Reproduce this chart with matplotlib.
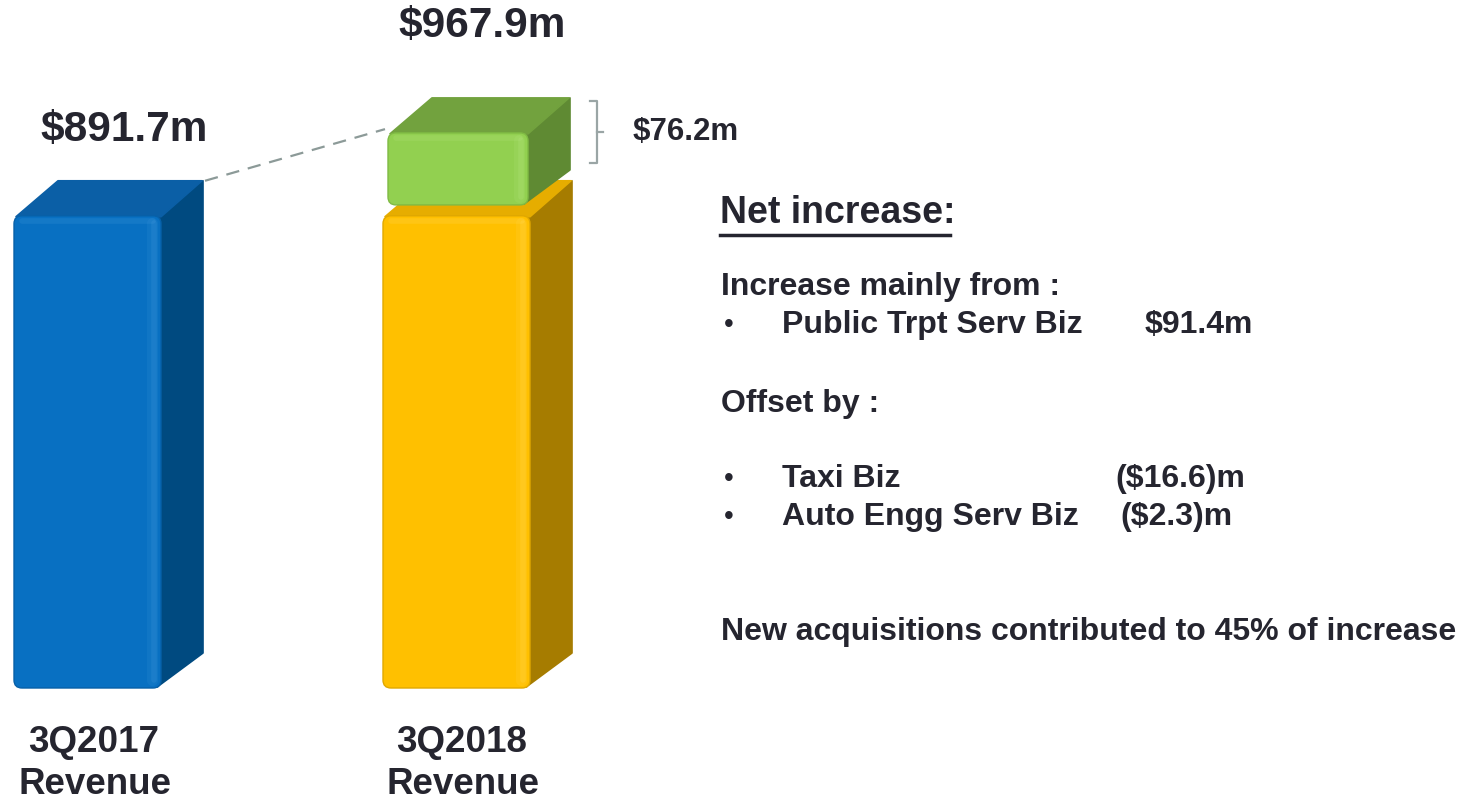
import matplotlib
matplotlib.use('Agg')
import matplotlib.pyplot as plt
from matplotlib.patches import FancyBboxPatch, Polygon

plt.rcParams['font.family'] = ['Liberation Sans', 'DejaVu Sans']
plt.rcParams['font.weight'] = 'bold'

# --- data ---
periods = ['3Q2017', '3Q2018']
revenue = [891.7, 967.9]                 # $m
growth = round(revenue[1] - revenue[0], 1)
up_items = ['Public Trpt Serv Biz']
up_values = ['$91.4m']
down_items = ['Taxi Biz', 'Auto Engg Serv Biz']
down_values = ['($16.6)m', '($2.3)m']
acq_share = 45

# --- layout (x in pixels, y in $m) ---
W, H = 1474, 800
FLOOR = 392.0           # base of the drawn bars (truncated axis)
PX = 0.945              # pixels per $m
Y_LO = FLOOR - (H - 688) / PX
Y_HI = Y_LO + H / PX
DX = 42                 # 3d depth, pixels
DY = 35 / PX            # 3d depth, $m
GAP = 11.5              # green block floats a little above the yellow one
INK = '#25252F'


def ypx(py):
    # pixel row -> y value (only used for placing text)
    return Y_LO + (H - py) / PX


def box3d(ax, x0, x1, y0, y1, front, top, side, shine, rim):
    ax.add_patch(Polygon([(x1 - 4, y0 + 1), (x1 + DX, y0 + DY), (x1 + DX, y1 + DY),
                          (x1 - 4, y1)],
                         closed=True, fc=side, ec=side, lw=1.2, joinstyle='round'))
    ax.add_patch(Polygon([(x0 + 2, y1 - 1), (x1, y1 - 1), (x1 + DX - 1, y1 + DY),
                          (x0 + DX + 2, y1 + DY)],
                         closed=True, fc=top, ec=top, lw=1.2, joinstyle='round'))
    ax.add_patch(FancyBboxPatch((x0, y0), x1 - x0, y1 - y0,
                                boxstyle='round,pad=0,rounding_size=8',
                                mutation_aspect=1 / PX, fc=front, ec=rim, lw=1.0))
    # soft highlight near the right edge of the front face
    for off, w, a in [(9, 8, 0.12), (7, 4, 0.18)]:
        ax.plot([x1 - off, x1 - off], [y0 + 8, y1 - 8], color=shine, lw=w, alpha=a,
                solid_capstyle='round')
    ax.plot([x0 + 8, x1 - 8], [y1 - 5, y1 - 5], color=shine, lw=4, alpha=0.18,
            solid_capstyle='round')


fig = plt.figure(figsize=(W / 100, H / 100), dpi=100)
ax = fig.add_axes([0, 0, 1, 1])
ax.set_xlim(0, W)
ax.set_ylim(Y_LO, Y_HI)
ax.axis('off')

# 3Q2017 bar
box3d(ax, 14, 161, FLOOR, revenue[0], '#0870C2', '#0B5FA6', '#004A80', '#4FA2E2',
      '#0760A8')
# 3Q2018 bar = previous level + increase
box3d(ax, 383, 530, FLOOR, revenue[0], '#FFC000', '#E6AD00', '#A67C00', '#FFE070',
      '#E0A800')
g0, g1 = revenue[0] + GAP, revenue[0] + GAP + growth
box3d(ax, 388, 528, g0, g1, '#92D050', '#72A23E', '#5F8A33', '#C0EA8C', '#7FBA44')

# dashed connector
ax.plot([205, 385], [revenue[0] + DY, g1 + 4], color='#8C9A98', lw=1.6,
        dashes=(6, 4))

# bracket for the increase
bt, bb = g1 + DY * 0.9, g0 + DY * 1.2
bm = (bt + bb) / 2
ax.plot([590, 597, 597, 590], [bt, bt, bb, bb], color='#9AA5A5', lw=1.6)
ax.plot([597, 603], [bm, bm], color='#9AA5A5', lw=1.6)
ax.text(633, bm, f'${growth:.1f}m', fontsize=22.5, color=INK, ha='left',
        va='center')

# value labels
ax.annotate(f'${revenue[0]:.1f}m', xy=(124, revenue[0] + DY), xytext=(0, 51),
            textcoords='offset pixels', ha='center', va='center', fontsize=30.5,
            color=INK)
ax.annotate(f'${revenue[1]:.1f}m', xy=(482, g1 + DY), xytext=(0, 72),
            textcoords='offset pixels', ha='center', va='center', fontsize=30.5,
            color=INK)

# category labels
for cx, p in zip([94, 462], periods):
    ax.annotate(p, xy=(cx, FLOOR), xytext=(0, -54), textcoords='offset pixels',
                ha='center', va='center', fontsize=26.5, color=INK)
    ax.annotate('Revenue', xy=(cx + 1, FLOOR), xytext=(0, -97),
                textcoords='offset pixels', ha='center', va='center',
                fontsize=26.5, color=INK)

# commentary
ax.text(720, ypx(213), 'Net increase:', fontsize=27, color=INK, va='center')
ax.plot([720, 950], [ypx(235), ypx(235)], color=INK, lw=2.5)
ax.text(721, ypx(287), 'Increase mainly from :', fontsize=23, color=INK, va='center')
for i, (name, val) in enumerate(zip(up_items, up_values)):
    y = ypx(325 + 38 * i)
    ax.text(724, y, '•', fontsize=20, color=INK, va='center', fontweight='normal')
    ax.text(782, y, name, fontsize=23, color=INK, va='center')
    ax.text(1145, y, val, fontsize=23, color=INK, va='center')
ax.text(721, ypx(404), 'Offset by :', fontsize=23, color=INK, va='center')
for i, (name, val, vx) in enumerate(zip(down_items, down_values, [1115, 1120])):
    y = ypx(479 + 38 * i)
    ax.text(724, y, '•', fontsize=20, color=INK, va='center', fontweight='normal')
    ax.text(782, y, name, fontsize=23, color=INK, va='center')
    ax.text(vx, y, val, fontsize=23, color=INK, va='center')
ax.text(721, ypx(632), f'New acquisitions contributed to {acq_share}% of increase',
        fontsize=23, color=INK, va='center')

fig.savefig('out.png', dpi=100, facecolor='white')
